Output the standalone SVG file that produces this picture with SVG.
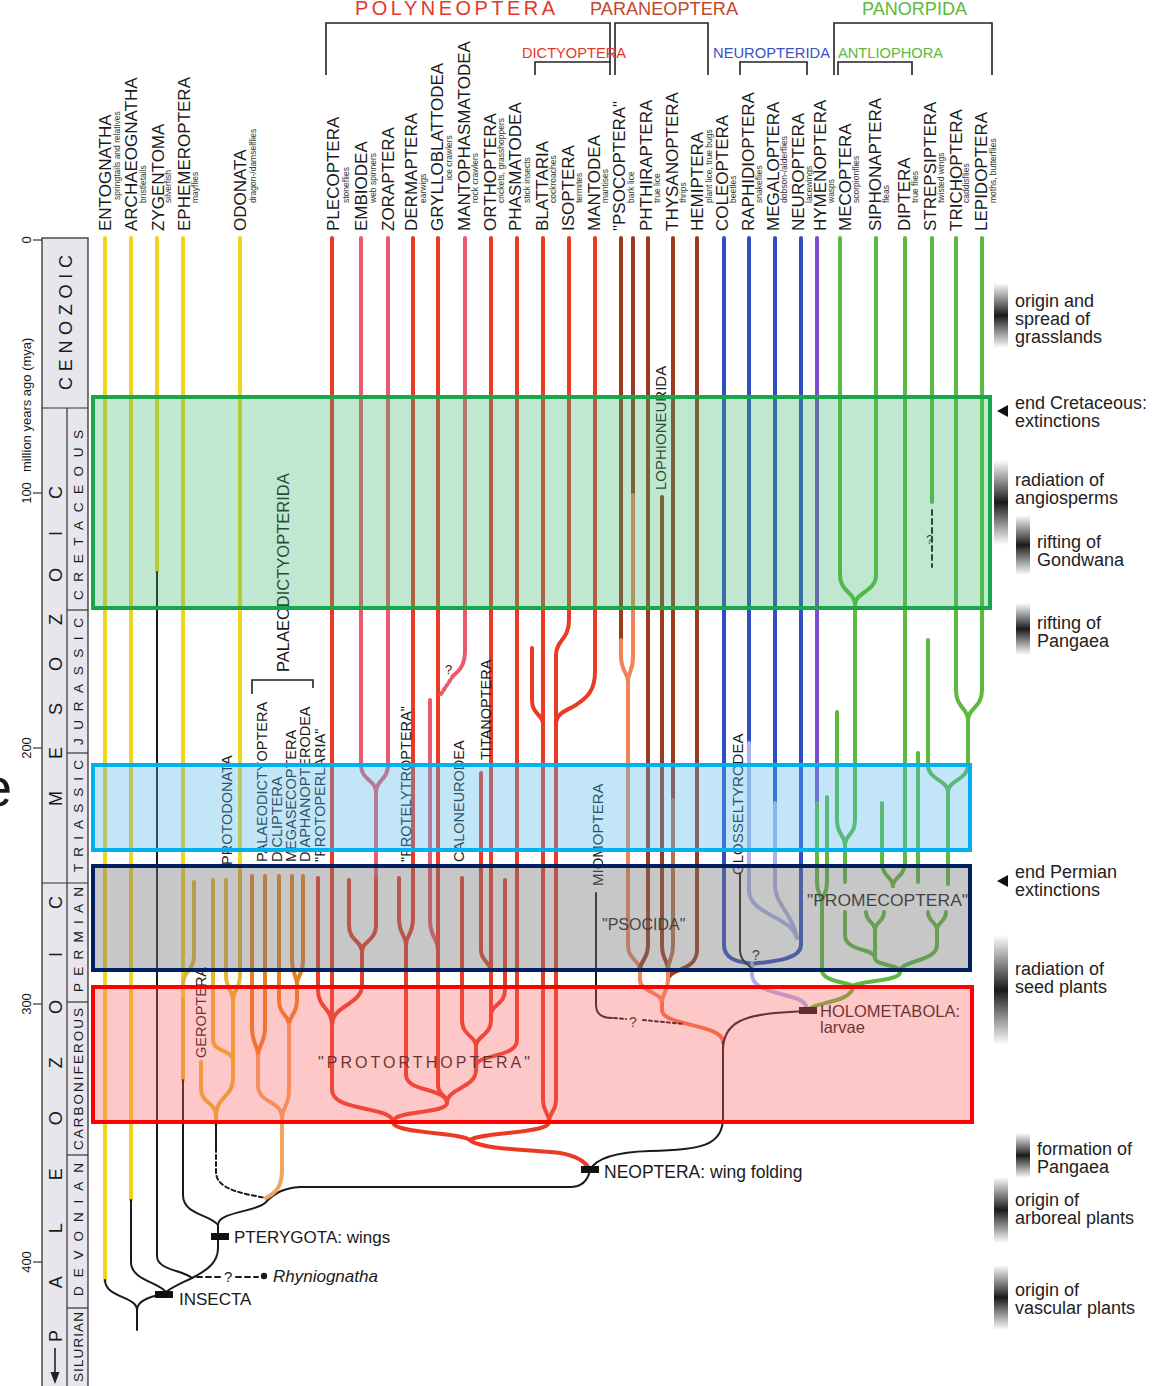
<svg xmlns="http://www.w3.org/2000/svg" width="1164" height="1386" viewBox="0 0 1164 1386">
<defs>
<linearGradient id="bar" x1="0" y1="0" x2="0" y2="1">
<stop offset="0" stop-color="#222" stop-opacity="0"/>
<stop offset="0.5" stop-color="#1a1a1a" stop-opacity="1"/>
<stop offset="1" stop-color="#222" stop-opacity="0"/>
</linearGradient>
<style>
text{font-family:"Liberation Sans",Arial,sans-serif;fill:#1a1a1a}
.ord{font-size:17px}
.sub{font-size:8.5px;fill:#333}
.inn{font-size:14.5px}
.ann{font-size:18px;fill:#222}
.era{font-size:18px}
.per{font-size:13.5px}
.ln{fill:none;stroke-width:4;stroke-linecap:round;stroke-linejoin:round}
.k{fill:none;stroke:#1a1a1a;stroke-width:2;stroke-linecap:round}
.br{fill:none;stroke:#222;stroke-width:1.6}
.Y{stroke:#f0d31c}.GD{stroke:#e6b62a}.OR{stroke:#e8801e}.LO{stroke:#f2a45e}
.RD{stroke:#ea3a26}.PK{stroke:#ea5a6c}.BR{stroke:#9c3a20}.LB{stroke:#b8704a}.SA{stroke:#f08458}
.BL{stroke:#2f4fc2}.LV{stroke:#aab2ea}.PU{stroke:#7a4ccc}.GR{stroke:#5cba3c}
.box{stroke-width:4}
</style>
</defs>
<rect width="1164" height="1386" fill="#fff"/>

<!-- time axis -->
<g id="axis">
<rect x="42" y="238" width="46" height="1160" fill="#e6e6ec" stroke="#333" stroke-width="1.3"/>
<line x1="67" y1="408" x2="67" y2="1386" stroke="#333" stroke-width="1.2"/>
<line x1="42" y1="408" x2="88" y2="408" stroke="#333" stroke-width="1.2"/>
<line x1="42" y1="883" x2="88" y2="883" stroke="#333" stroke-width="1.2"/>
<g stroke="#333" stroke-width="1.2">
<line x1="67" y1="610" x2="88" y2="610"/><line x1="67" y1="753" x2="88" y2="753"/>
<line x1="67" y1="1002" x2="88" y2="1002"/><line x1="67" y1="1155" x2="88" y2="1155"/>
<line x1="67" y1="1308" x2="88" y2="1308"/>
<line x1="33" y1="240" x2="42" y2="240"/><line x1="33" y1="493" x2="42" y2="493"/>
<line x1="33" y1="748" x2="42" y2="748"/><line x1="33" y1="1004" x2="42" y2="1004"/>
<line x1="33" y1="1262" x2="42" y2="1262"/>
</g>
<g font-size="13" text-anchor="middle">
<text transform="translate(31,240) rotate(-90)">0</text>
<text transform="translate(31,493) rotate(-90)">100</text>
<text transform="translate(31,748) rotate(-90)">200</text>
<text transform="translate(31,1004) rotate(-90)">300</text>
<text transform="translate(31,1262) rotate(-90)">400</text>
</g>
<text transform="translate(31,472) rotate(-90)" font-size="13">million years ago (mya)</text>
<text class="era" transform="translate(72,390) rotate(-90)" textLength="135" lengthAdjust="spacing">CENOZOIC</text>
<text class="era" transform="translate(62,806) rotate(-90)" textLength="320" lengthAdjust="spacing">MESOZOIC</text>
<text class="era" transform="translate(62,1342) rotate(-90)" textLength="446" lengthAdjust="spacing">PALEOZOIC</text>
<line x1="55" y1="1348" x2="55" y2="1376" stroke="#222" stroke-width="1.6"/>
<polygon points="50.5,1372 59.5,1372 55,1384" fill="#222"/>
<text class="per" transform="translate(83,600) rotate(-90)" textLength="170" lengthAdjust="spacing">CRETACEOUS</text>
<text class="per" transform="translate(83,745) rotate(-90)" textLength="127" lengthAdjust="spacing">JURASSIC</text>
<text class="per" transform="translate(83,872) rotate(-90)" textLength="112" lengthAdjust="spacing">TRIASSIC</text>
<text class="per" transform="translate(83,992) rotate(-90)" textLength="105" lengthAdjust="spacing">PERMIAN</text>
<text class="per" transform="translate(83,1150) rotate(-90)" textLength="142" lengthAdjust="spacing">CARBONIFEROUS</text>
<text class="per" transform="translate(83,1296) rotate(-90)" textLength="133" lengthAdjust="spacing">DEVONIAN</text>
<text class="per" transform="translate(83,1382) rotate(-90)" textLength="70" lengthAdjust="spacing">SILURIAN</text>
</g>
<text x="-18" y="806" font-size="54" fill="#222">e</text>

<!-- group brackets -->
<g id="groups">
<path class="br" d="M326 75 V23 H610 V75"/>
<path class="br" d="M615 75 V23 H708 V75"/>
<path class="br" d="M535 75 V62 H610"/>
<path class="br" d="M740 75 V62 H807 V75"/>
<path class="br" d="M834 75 V23 H992 V75"/>
<path class="br" d="M838 75 V62 H912 V75"/>
<path class="br" d="M252 694 V680 H313 V688"/>
<text x="355" y="15" font-size="20" style="fill:#e8352a" textLength="200" lengthAdjust="spacing">POLYNEOPTERA</text>
<text x="590" y="15" font-size="18" style="fill:#c0482c" textLength="148" lengthAdjust="spacingAndGlyphs">PARANEOPTERA</text>
<text x="862" y="15" font-size="18" style="fill:#5cba3c" textLength="105" lengthAdjust="spacingAndGlyphs">PANORPIDA</text>
<text x="522" y="58" font-size="15" style="fill:#e8352a" textLength="104" lengthAdjust="spacingAndGlyphs">DICTYOPTERA</text>
<text x="713" y="58" font-size="15" style="fill:#3a50c8" textLength="117" lengthAdjust="spacingAndGlyphs">NEUROPTERIDA</text>
<text x="838" y="58" font-size="15" style="fill:#5cba3c" textLength="105" lengthAdjust="spacingAndGlyphs">ANTLIOPHORA</text>
</g>

<!-- lineages / connectors -->
<g id="connectors">
<!-- basal apterygotes -->
<path class="ln Y" d="M105 238 V1280"/>
<path class="k" d="M105 1280 C105 1298 137 1296 137 1310 V1330"/>
<path class="k" d="M137 1310 C137 1300 152 1296 164 1294"/>
<path class="ln Y" d="M131 238 V1200"/>
<path class="k" d="M131 1200 V1262 C131 1280 158 1282 166 1292"/>
<path class="ln Y" d="M157 238 V572"/>
<path class="k" d="M157 572 V1256 C157 1270 182 1270 192 1278"/>
<path class="k" d="M166 1292 C174 1286 184 1282 192 1278"/>
<path class="k" d="M192 1278 C208 1270 218 1262 218 1248 V1225"/>
<path class="k" d="M197 1277 H222 M236 1277 H258" stroke-dasharray="5 4"/>
<circle cx="264" cy="1276" r="3.2" fill="#1a1a1a"/>
<!-- Ephemeroptera -->
<path class="ln Y" d="M183 238 V1000"/>
<path class="ln GD" d="M183 1000 V1080"/>
<path class="ln GD" d="M194 882 V955 C194 972 183 970 183 985"/>
<path class="k" d="M183 1080 V1195 C183 1215 210 1214 218 1225"/>
<path class="k" d="M218 1225 C218 1212 255 1212 265 1203 C275 1192 285 1188 300 1187 L570 1187 C582 1187 588 1180 590 1170"/>
<!-- Odonatoptera -->
<path class="ln Y" d="M240 238 V872"/>
<path class="ln GD" d="M240 872 V975 C240 990 233 990 233 1000"/>
<path class="ln GD" d="M226 880 V975 C226 990 233 990 233 1000"/>
<path class="ln GD" d="M233 1000 V1078 C233 1098 216 1096 216 1116"/>
<path class="ln GD" d="M213 880 V1040 C213 1052 233 1050 233 1060"/>
<path class="ln GD" d="M201 1062 V1088 C201 1104 216 1102 216 1116 V1124"/>
<path class="k" d="M216 1124 V1148"/>
<path class="k" d="M216 1148 V1172 C216 1190 245 1194 266 1198" stroke-dasharray="4 3"/>
<!-- Palaeodictyopterida -->
<path class="ln OR" d="M252 876 V1028 C252 1044 258 1044 258 1056"/>
<path class="ln OR" d="M265 876 V1028 C265 1044 258 1044 258 1056"/>
<path class="ln LO" d="M258 1056 V1085 C258 1104 282 1100 282 1118"/>
<path class="ln OR" d="M279 876 V1000 C279 1015 289 1015 289 1025"/>
<path class="ln OR" d="M292 876 V960 C292 975 297 975 297 985"/>
<path class="ln OR" d="M303 876 V960 C303 975 297 975 297 985 V1000 C297 1015 289 1015 289 1025"/>
<path class="ln LO" d="M289 1025 V1090 C289 1108 282 1106 282 1118 V1170 C282 1188 275 1193 266 1198"/>
<!-- Polyneoptera -->
<path class="ln RD" d="M318 878 V990 C318 1008 332 1008 332 1025"/>
<path class="ln RD" d="M332 238 V1090 C332 1112 393 1106 393 1122"/>
<path class="ln PK" d="M361 238 V765 C361 780 376 780 376 792 V880"/>
<path class="ln PK" d="M388 238 V765 C388 780 376 780 376 792"/>
<path class="ln RD" d="M376 880 V925 C376 942 362 940 362 952"/>
<path class="ln RD" d="M349 880 V925 C349 942 362 940 362 952"/>
<path class="ln RD" d="M362 952 V985 C362 1005 332 1005 332 1025"/>
<path class="ln RD" d="M413 238 V918 C413 935 406 935 406 945"/>
<path class="ln RD" d="M399 878 V918 C399 935 406 935 406 945"/>
<path class="ln RD" d="M406 945 V1075 C406 1092 447 1088 447 1103"/>
<path class="ln PK" d="M430 700 V920 C430 938 438 938 438 950"/>
<path class="ln RD" d="M438 238 V1085 C438 1096 447 1094 447 1103"/>
<path class="ln PK" d="M465 238 V650 C465 665 460 670 453 676"/>
<path class="ln PK" d="M453 676 L441 694" stroke-dasharray="2 3"/>
<path class="ln RD" d="M462 878 V1020 C462 1036 476 1036 476 1046"/>
<path class="ln RD" d="M481 773 V950 C481 962 491 962 491 972"/>
<path class="ln RD" d="M491 238 V1020 C491 1036 476 1036 476 1046"/>
<path class="ln RD" d="M505 880 V990 C505 1005 491 1004 491 1015"/>
<path class="ln RD" d="M476 1046 V1070 C476 1088 447 1088 447 1103"/>
<path class="ln RD" d="M517 238 V1040 C517 1058 476 1054 476 1066"/>
<path class="ln RD" d="M447 1103 C447 1114 393 1110 393 1122"/>
<path class="ln RD" d="M393 1122 C393 1134 460 1132 470 1140"/>
<path class="ln RD" d="M543 238 V1100 C543 1112 549 1112 549 1122"/>
<path class="ln RD" d="M532 648 V700 C532 715 543 714 543 724"/>
<path class="ln RD" d="M569 238 V620 C569 640 556 640 556 655"/>
<path class="ln RD" d="M595 238 V672 C595 695 582 700 576 705 C568 710 558 712 556 722"/>
<path class="ln RD" d="M556 655 V1100 C556 1112 549 1112 549 1122"/>
<path class="ln RD" d="M549 1122 C549 1134 480 1132 470 1140"/>
<path class="ln RD" d="M470 1140 C480 1150 540 1150 560 1153 C578 1156 586 1162 590 1170"/>
<!-- Paraneoptera -->
<path class="ln BR" d="M621 238 V640"/>
<path class="ln SA" d="M621 640 V656 C621 672 628 672 628 682"/>
<path class="ln BR" d="M633 238 V495"/>
<path class="ln SA" d="M633 495 V656 C633 672 628 672 628 682"/>
<path class="ln SA" d="M628 682 V945 C628 960 640 960 640 970"/>
<path class="ln BR" d="M648 238 V945 C648 960 640 960 640 970"/>
<path class="ln BR" d="M662 497 V945 C662 960 668 960 668 970"/>
<path class="ln BR" d="M673 238 V800"/>
<path class="ln LB" d="M673 800 V945 C673 960 668 960 668 970"/>
<path class="ln BR" d="M697 238 V950 C697 972 668 968 668 980"/>
<path class="ln SA" d="M668 970 V980 C668 992 662 992 662 1003"/>
<path class="ln SA" d="M640 970 V980 C640 992 662 992 662 1003"/>
<path class="ln" stroke="#f07040" d="M662 1003 V1010 C662 1026 723 1024 723 1042"/>
<path class="k" d="M723 1042 V1118 C723 1146 700 1150 650 1151 C615 1152 596 1158 590 1170"/>
<path class="k" d="M723 1050 C723 1022 745 1014 790 1012 L806 1011"/>
<path class="k" d="M596 893 V1005 C596 1014 602 1018 612 1018"/>
<path class="k" d="M614 1018 L626 1019 M643 1020 L684 1024" stroke-dasharray="3 3"/>
<!-- Neuropterida + Coleoptera -->
<path class="ln BL" d="M724 238 V945 C724 962 745 962 752 964"/>
<path class="ln BL" d="M801 238 V945 C801 962 760 962 752 964"/>
<path class="ln BL" d="M749 238 V743"/>
<path class="ln LV" d="M749 743 V890 C749 915 790 915 797 938"/>
<path class="ln BL" d="M775 238 V803"/>
<path class="ln LV" d="M775 803 V885 C775 905 792 912 797 938"/>
<path class="ln LV" d="M752 964 V975 C752 992 790 994 800 1000 C805 1003 807 1006 807 1010"/>
<path class="k" d="M740 874 V950 C740 958 744 962 748 965"/>
<path class="k" d="M749 966 L754 970" stroke-dasharray="2 2"/>
<!-- Hymenoptera + Panorpida -->
<path class="ln PU" d="M817 238 V803"/>
<path class="ln GR" d="M817 803 V882 C817 895 822 895 822 902"/>
<path class="ln GR" d="M827 797 V882 C827 895 822 895 822 902"/>
<path class="ln GR" d="M822 902 V970 C822 982 848 982 853 986"/>
<path class="ln GR" d="M840 238 V575 C840 592 855 592 855 605"/>
<path class="ln GR" d="M876 238 V575 C876 592 855 592 855 605"/>
<path class="ln GR" d="M855 605 V820 C855 835 845 835 845 845 V882"/>
<path class="ln GR" d="M837 712 V820 C837 835 845 835 845 845"/>
<path class="ln GR" d="M905 238 V862 C905 877 893 877 893 886"/>
<path class="ln GR" d="M882 803 V862 C882 877 893 877 893 886"/>
<path class="ln GR" d="M918 753 V882"/>
<path class="ln GR" d="M932 238 V502"/>
<path class="k" d="M932 510 V567" stroke-dasharray="5 4"/>
<path class="ln GR" d="M956 238 V690 C956 708 968 708 968 720"/>
<path class="ln GR" d="M982 238 V690 C982 708 968 708 968 720"/>
<path class="ln GR" d="M968 720 V765 C968 780 948 780 948 792"/>
<path class="ln GR" d="M928 640 V765 C928 780 948 780 948 792 V884"/>
<path class="ln GR" d="M845 912 V935 C845 952 875 948 875 958"/>
<path class="ln GR" d="M866 912 C866 922 875 922 875 930 V958"/>
<path class="ln GR" d="M884 912 C884 922 875 922 875 930"/>
<path class="ln GR" d="M928 912 C928 922 937 922 937 930"/>
<path class="ln GR" d="M946 912 C946 922 937 922 937 930 V945 C937 962 900 960 900 972"/>
<path class="ln GR" d="M875 958 C875 966 900 964 900 972"/>
<path class="ln GR" d="M900 972 C900 982 860 980 853 986"/>
<path class="ln GR" d="M853 986 C853 1000 825 1002 815 1006 L807 1010"/>
</g>

<!-- internal fossil group labels -->
<g id="fossil-labels" class="inn">
<text transform="translate(289,672) rotate(-90)" font-size="16.5">PALAEODICTYOPTERIDA</text>
<text transform="translate(206,1058) rotate(-90)">GEROPTERA</text>
<text transform="translate(232,865) rotate(-90)">PROTODONATA</text>
<text transform="translate(267,862) rotate(-90)">PALAEODICTYOPTERA</text>
<text transform="translate(282,862) rotate(-90)">DICLIPTERA</text>
<text transform="translate(296,862) rotate(-90)">MEGASECOPTERA</text>
<text transform="translate(310,862) rotate(-90)">DIAPHANOPTERODEA</text>
<text transform="translate(325,862) rotate(-90)">"PROTOPERLARIA"</text>
<text transform="translate(411,862) rotate(-90)">"PROTELYTROPTERA"</text>
<text transform="translate(464,862) rotate(-90)">CALONEURODEA</text>
<text transform="translate(491,760) rotate(-90)">TITANOPTERA</text>
<text transform="translate(603,886) rotate(-90)" font-size="15">MIOMOPTERA</text>
<text transform="translate(666,490) rotate(-90)" font-size="15">LOPHIONEURIDA</text>
<text transform="translate(743,875) rotate(-90)" font-size="15">GLOSSELTYRODEA</text>
<text x="602" y="930" font-size="16">"PSOCIDA"</text>
<text x="807" y="906" font-size="17" textLength="161" lengthAdjust="spacingAndGlyphs">"PROMECOPTERA"</text>
<text x="318" y="1068" font-size="16" textLength="212" lengthAdjust="spacing">"PROTORTHOPTERA"</text>
<text x="445" y="674" font-size="13">?</text>
<text x="629" y="1027" font-size="14">?</text>
<text x="752" y="960" font-size="14">?</text>
<text x="926" y="544" font-size="13">?</text>
<text x="224" y="1282" font-size="15">?</text>
</g>

<!-- order labels -->
<g id="orders">
<g id="n-entognatha"><text class="ord" transform="translate(111,231) rotate(-90)">ENTOGNATHA</text><text class="sub" transform="translate(120,200) rotate(-90)">springtails and relatives</text></g>
<g id="n-archaeognatha"><text class="ord" transform="translate(137,231) rotate(-90)">ARCHAEOGNATHA</text><text class="sub" transform="translate(146,203) rotate(-90)">bristletails</text></g>
<g id="n-zygentoma"><text class="ord" transform="translate(164,231) rotate(-90)">ZYGENTOMA</text><text class="sub" transform="translate(171,203) rotate(-90)">silverfish</text></g>
<g id="n-ephemeroptera"><text class="ord" transform="translate(190,231) rotate(-90)">EPHEMEROPTERA</text><text class="sub" transform="translate(198,203) rotate(-90)">mayflies</text></g>
<g id="n-odonata"><text class="ord" transform="translate(246,231) rotate(-90)">ODONATA</text><text class="sub" transform="translate(256,203) rotate(-90)">dragon-/damselflies</text></g>
<g id="n-plecoptera"><text class="ord" transform="translate(339,231) rotate(-90)">PLECOPTERA</text><text class="sub" transform="translate(349,203) rotate(-90)">stoneflies</text></g>
<g id="n-embiodea"><text class="ord" transform="translate(367,231) rotate(-90)">EMBIODEA</text><text class="sub" transform="translate(376,203) rotate(-90)">web spinners</text></g>
<g id="n-zoraptera"><text class="ord" transform="translate(394,231) rotate(-90)">ZORAPTERA</text></g>
<g id="n-dermaptera"><text class="ord" transform="translate(417,231) rotate(-90)">DERMAPTERA</text><text class="sub" transform="translate(426,203) rotate(-90)">earwigs</text></g>
<g id="n-grylloblattodea"><text class="ord" transform="translate(443,231) rotate(-90)">GRYLLOBLATTODEA</text><text class="sub" transform="translate(452,180) rotate(-90)">ice crawlers</text></g>
<g id="n-mantophasmatodea"><text class="ord" transform="translate(470,231) rotate(-90)">MANTOPHASMATODEA</text><text class="sub" transform="translate(478,203) rotate(-90)">rock crawlers</text></g>
<g id="n-orthoptera"><text class="ord" transform="translate(496,231) rotate(-90)">ORTHOPTERA</text><text class="sub" transform="translate(504,203) rotate(-90)">crickets, grasshoppers</text></g>
<g id="n-phasmatodea"><text class="ord" transform="translate(521,231) rotate(-90)">PHASMATODEA</text><text class="sub" transform="translate(530,203) rotate(-90)">stick insects</text></g>
<g id="n-blattaria"><text class="ord" transform="translate(548,231) rotate(-90)">BLATTARIA</text><text class="sub" transform="translate(556,203) rotate(-90)">cockroaches</text></g>
<g id="n-isoptera"><text class="ord" transform="translate(574,231) rotate(-90)">ISOPTERA</text><text class="sub" transform="translate(582,203) rotate(-90)">termites</text></g>
<g id="n-mantodea"><text class="ord" transform="translate(600,231) rotate(-90)">MANTODEA</text><text class="sub" transform="translate(608,203) rotate(-90)">mantises</text></g>
<g id="n-psocoptera"><text class="ord" transform="translate(625,231) rotate(-90)">"PSOCOPTERA"</text><text class="sub" transform="translate(634,203) rotate(-90)">bark lice</text></g>
<g id="n-phthiraptera"><text class="ord" transform="translate(652,231) rotate(-90)">PHTHIRAPTERA</text><text class="sub" transform="translate(660,203) rotate(-90)">true lice</text></g>
<g id="n-thysanoptera"><text class="ord" transform="translate(678,231) rotate(-90)">THYSANOPTERA</text><text class="sub" transform="translate(686,203) rotate(-90)">thrips</text></g>
<g id="n-hemiptera"><text class="ord" transform="translate(703,231) rotate(-90)">HEMIPTERA</text><text class="sub" transform="translate(712,203) rotate(-90)">plant lice, true bugs</text></g>
<g id="n-coleoptera"><text class="ord" transform="translate(728,231) rotate(-90)">COLEOPTERA</text><text class="sub" transform="translate(736,203) rotate(-90)">beetles</text></g>
<g id="n-raphidioptera"><text class="ord" transform="translate(754,231) rotate(-90)">RAPHIDIOPTERA</text><text class="sub" transform="translate(762,203) rotate(-90)">snakeflies</text></g>
<g id="n-megaloptera"><text class="ord" transform="translate(779,231) rotate(-90)">MEGALOPTERA</text><text class="sub" transform="translate(787,203) rotate(-90)">dobson-/alderflies</text></g>
<g id="n-neuroptera"><text class="ord" transform="translate(804,231) rotate(-90)">NEUROPTERA</text><text class="sub" transform="translate(812,203) rotate(-90)">lacewings</text></g>
<g id="n-hymenoptera"><text class="ord" transform="translate(826,231) rotate(-90)">HYMENOPTERA</text><text class="sub" transform="translate(834,203) rotate(-90)">wasps</text></g>
<g id="n-mecoptera"><text class="ord" transform="translate(851,231) rotate(-90)">MECOPTERA</text><text class="sub" transform="translate(859,203) rotate(-90)">scorpionflies</text></g>
<g id="n-siphonaptera"><text class="ord" transform="translate(881,231) rotate(-90)">SIPHONAPTERA</text><text class="sub" transform="translate(889,203) rotate(-90)">fleas</text></g>
<g id="n-diptera"><text class="ord" transform="translate(910,231) rotate(-90)">DIPTERA</text><text class="sub" transform="translate(918,203) rotate(-90)">true flies</text></g>
<g id="n-strepsiptera"><text class="ord" transform="translate(936,231) rotate(-90)">STREPSIPTERA</text><text class="sub" transform="translate(944,203) rotate(-90)">twisted wings</text></g>
<g id="n-trichoptera"><text class="ord" transform="translate(962,231) rotate(-90)">TRICHOPTERA</text><text class="sub" transform="translate(969,203) rotate(-90)">caddisflies</text></g>
<g id="n-lepidoptera"><text class="ord" transform="translate(987,231) rotate(-90)">LEPIDOPTERA</text><text class="sub" transform="translate(996,203) rotate(-90)">moths, butterflies</text></g>
</g>

<!-- key nodes -->
<g id="n-insecta"><rect x="155" y="1291" width="18" height="7" fill="#111"/><text x="179" y="1305" font-size="17">INSECTA</text></g>
<g id="n-pterygota"><rect x="211" y="1233" width="18" height="7" fill="#111"/><text x="234" y="1243" font-size="17">PTERYGOTA: wings</text></g>
<g id="n-rhyniognatha"><text x="273" y="1282" font-size="17" font-style="italic">Rhyniognatha</text></g>
<g id="n-neoptera"><rect x="581" y="1166" width="18" height="7" fill="#111"/><text x="604" y="1178" font-size="17.5">NEOPTERA: wing folding</text></g>
<g id="n-holometabola"><rect x="799" y="1007" width="18" height="7" fill="#111"/><text x="820" y="1017" font-size="16.5">HOLOMETABOLA:</text><text x="820" y="1033" font-size="16.5">larvae</text></g>

<!-- highlight boxes -->
<g id="highlights">
<rect class="box" x="93" y="397" width="897" height="211" fill="#3cb46e" fill-opacity="0.32" stroke="#1aa64a"/>
<rect class="box" x="93" y="765" width="877" height="85" fill="#4fb8ec" fill-opacity="0.35" stroke="#00b0f0"/>
<rect class="box" x="93" y="866" width="877" height="104" fill="#7a7a7a" fill-opacity="0.42" stroke="#002060"/>
<rect class="box" x="93" y="987" width="879" height="135" fill="#ff6060" fill-opacity="0.35" stroke="#ff0000"/>
</g>

<!-- events -->
<g id="events">
<rect x="994" y="283" width="14" height="65" fill="url(#bar)"/>
<text class="ann" x="1015" y="307">origin and</text><text class="ann" x="1015" y="325">spread of</text><text class="ann" x="1015" y="343">grasslands</text>
<polygon points="997,411 1008,405 1008,417" fill="#111"/>
<text class="ann" x="1015" y="409">end Cretaceous:</text><text class="ann" x="1015" y="427">extinctions</text>
<rect x="994" y="460" width="14" height="85" fill="url(#bar)"/>
<text class="ann" x="1015" y="486">radiation of</text><text class="ann" x="1015" y="504">angiosperms</text>
<rect x="1016" y="515" width="14" height="60" fill="url(#bar)"/>
<text class="ann" x="1037" y="548">rifting of</text><text class="ann" x="1037" y="566">Gondwana</text>
<rect x="1016" y="603" width="14" height="52" fill="url(#bar)"/>
<text class="ann" x="1037" y="629">rifting of</text><text class="ann" x="1037" y="647">Pangaea</text>
<polygon points="997,881 1008,875 1008,887" fill="#111"/>
<text class="ann" x="1015" y="878">end Permian</text><text class="ann" x="1015" y="896">extinctions</text>
<rect x="994" y="935" width="14" height="110" fill="url(#bar)"/>
<text class="ann" x="1015" y="975">radiation of</text><text class="ann" x="1015" y="993">seed plants</text>
<rect x="1016" y="1133" width="14" height="45" fill="url(#bar)"/>
<text class="ann" x="1037" y="1155">formation of</text><text class="ann" x="1037" y="1173">Pangaea</text>
<rect x="994" y="1177" width="14" height="66" fill="url(#bar)"/>
<text class="ann" x="1015" y="1206">origin of</text><text class="ann" x="1015" y="1224">arboreal plants</text>
<rect x="994" y="1265" width="14" height="65" fill="url(#bar)"/>
<text class="ann" x="1015" y="1296">origin of</text><text class="ann" x="1015" y="1314">vascular plants</text>
</g>
</svg>
